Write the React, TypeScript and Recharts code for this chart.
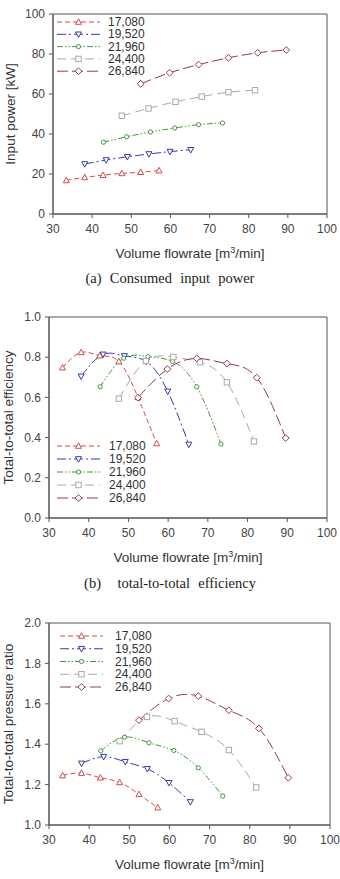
import React from "react";
import { LineChart, Line, XAxis, YAxis, Legend, ReferenceArea } from "recharts";

// rotational speeds [rpm]
const speeds = ["17,080", "19,520", "21,960", "24,400", "26,840"];

// volume flowrate [m3/min] at each operating point
const flow17080 = [33.4, 38.1, 42.8, 47.6, 52.4, 57.1];
const flow19520 = [38.1, 43.6, 49.0, 54.5, 59.9, 65.2];
const flow21960 = [42.9, 48.8, 54.9, 61.1, 67.2, 73.3];
const flow24400 = [47.6, 54.4, 61.3, 68.0, 74.8, 81.6];
const flow26840 = [52.4, 59.8, 67.2, 74.8, 82.3, 89.6];

// input power [kW]
const power17080 = [16.8, 18.3, 19.4, 20.3, 20.9, 21.7];
const power19520 = [25.0, 27.0, 28.6, 30.0, 31.2, 32.1];
const power21960 = [35.9, 38.6, 41.0, 43.0, 44.7, 45.5];
const power24400 = [49.1, 52.8, 56.1, 58.7, 60.9, 61.9];
const power26840 = [65.1, 70.6, 74.7, 78.1, 80.6, 82.0];

// total-to-total efficiency
const eff17080 = [0.748, 0.824, 0.808, 0.779, 0.6, 0.371];
const eff19520 = [0.705, 0.814, 0.806, 0.779, 0.63, 0.366];
const eff21960 = [0.653, 0.795, 0.803, 0.779, 0.653, 0.368];
const eff24400 = [0.594, 0.781, 0.801, 0.775, 0.675, 0.381];
const eff26840 = [0.599, 0.741, 0.794, 0.768, 0.698, 0.398];

// total-to-total pressure ratio
const ratio17080 = [1.245, 1.257, 1.234, 1.211, 1.152, 1.086];
const ratio19520 = [1.305, 1.338, 1.313, 1.278, 1.209, 1.114];
const ratio21960 = [1.367, 1.435, 1.407, 1.369, 1.283, 1.143];
const ratio24400 = [1.415, 1.535, 1.514, 1.461, 1.371, 1.186];
const ratio26840 = [1.519, 1.626, 1.638, 1.568, 1.478, 1.234];

const flowTicks = [30, 40, 50, 60, 70, 80, 90, 100];
const powerTicks = [0, 20, 40, 60, 80, 100];
const effTicks = [0, 0.2, 0.4, 0.6, 0.8, 1.0];
const ratioTicks = [1.0, 1.2, 1.4, 1.6, 1.8, 2.0];

const flows = [flow17080, flow19520, flow21960, flow24400, flow26840];
const powerSets = [power17080, power19520, power21960, power24400, power26840];
const effSets = [eff17080, eff19520, eff21960, eff24400, eff26840];
const ratioSets = [ratio17080, ratio19520, ratio21960, ratio24400, ratio26840];

type Shape = "triUp" | "triDown" | "circle" | "square" | "diamond";

const styles: { color: string; dash: string; shape: Shape }[] = [
  { color: "#d44c4c", dash: "5 3", shape: "triUp" },
  { color: "#3a3aa6", dash: "9 3 2 3", shape: "triDown" },
  { color: "#3d9a3d", dash: "6 2 1.5 2 1.5 2", shape: "circle" },
  { color: "#a9a9a9", dash: "9 5", shape: "square" },
  { color: "#9a3850", dash: "11 4", shape: "diamond" },
];

const SANS = "'Liberation Sans', Arial, sans-serif";
const AXIS = "#555";

function Marker({ cx, cy, shape, color }: { cx: number; cy: number; shape: Shape; color: string }) {
  const common = { fill: "#fff", stroke: color, strokeWidth: 1 };
  switch (shape) {
    case "triUp":
      return <polygon points={`${cx},${cy - 3.2} ${cx + 3},${cy + 2.3} ${cx - 3},${cy + 2.3}`} {...common} />;
    case "triDown":
      return <polygon points={`${cx},${cy + 3.2} ${cx + 3},${cy - 2.3} ${cx - 3},${cy - 2.3}`} {...common} />;
    case "circle":
      return <circle cx={cx} cy={cy} r={2.1} {...common} />;
    case "square":
      return <rect x={cx - 2.7} y={cy - 2.7} width={5.4} height={5.4} {...common} />;
    default:
      return <polygon points={`${cx},${cy - 3.4} ${cx + 3.4},${cy} ${cx},${cy + 3.4} ${cx - 3.4},${cy}`} {...common} />;
  }
}

interface LegendPos {
  left: number;
  top: number;
  lineEnd: number;
  textX: number;
  gap: number;
}

function SpeedLegend({ pos }: { pos: LegendPos }) {
  const mid = pos.lineEnd / 2 + 1;
  return (
    <svg width={130} height={5 * pos.gap + 6} style={{ display: "block" }}>
      {styles.map((s, i) => {
        const y = 8 + i * pos.gap;
        return (
          <g key={i}>
            <line x1={2} x2={pos.lineEnd} y1={y} y2={y} stroke={s.color} strokeDasharray={s.dash} />
            <Marker cx={mid} cy={y} shape={s.shape} color={s.color} />
            <text x={pos.textX} y={y} dominantBaseline="central" fontSize={12} fontFamily={SANS} fill="#333">
              {speeds[i]}
            </text>
          </g>
        );
      })}
    </svg>
  );
}

interface ChartProps {
  top: number;
  height: number;
  margin: { top: number; right: number; bottom: number; left: number };
  yWidth: number;
  yDomain: [number, number];
  yTicks: number[];
  digits: number;
  yTitle: string;
  yTitleX: number;
  sets: number[][];
  legend: LegendPos;
}

function PerfChart(props: ChartProps) {
  const { top, height, margin, yWidth, yDomain, yTicks, digits, yTitle, yTitleX, sets, legend } = props;

  const yLabel = (p: any) => {
    const vb = p.viewBox;
    const cy = vb.y + vb.height / 2;
    return (
      <text x={yTitleX} y={cy} transform={`rotate(-90, ${yTitleX}, ${cy})`} textAnchor="middle" fontSize={13.5} fontFamily={SANS} fill="#333">
        {yTitle}
      </text>
    );
  };

  const xLabel = (p: any) => {
    const vb = p.viewBox;
    return (
      <text x={vb.x + vb.width / 2} y={vb.y + 44} textAnchor="middle" fontSize={13.5} fontFamily={SANS} fill="#333">
        Volume flowrate [m<tspan dy={-5} fontSize={9}>3</tspan>
        <tspan dy={5}>/min]</tspan>
      </text>
    );
  };

  return (
    <div style={{ position: "absolute", left: 0, top }}>
      <LineChart width={340} height={height} margin={margin}>
        <ReferenceArea x1={30} x2={100} y1={yDomain[0]} y2={yDomain[1]} fill="none" stroke={AXIS} strokeWidth={1} />
        <XAxis
          type="number"
          dataKey="x"
          domain={[30, 100]}
          ticks={flowTicks}
          height={40}
          stroke={AXIS}
          tickSize={4}
          tickMargin={6}
          tick={{ fill: "#444", fontSize: 12, fontFamily: SANS }}
          label={xLabel}
        />
        <YAxis
          type="number"
          domain={yDomain}
          ticks={yTicks}
          width={yWidth}
          stroke={AXIS}
          tickSize={4}
          tickMargin={4}
          tickFormatter={(v: number) => v.toFixed(digits)}
          tick={{ fill: "#444", fontSize: 12, fontFamily: SANS }}
          label={yLabel}
        />
        <Legend
          layout="vertical"
          align="center"
          verticalAlign="middle"
          wrapperStyle={{ left: legend.left, top: legend.top, width: 130 }}
          content={() => <SpeedLegend pos={legend} />}
        />
        {sets.map((vals, i) => (
          <Line
            key={speeds[i]}
            name={speeds[i]}
            data={flows[i].map((x, j) => ({ x, y: vals[j] }))}
            dataKey="y"
            type="natural"
            stroke={styles[i].color}
            strokeWidth={1}
            strokeDasharray={styles[i].dash}
            dot={(d: any) => <Marker key={`${i}-${d.index}`} cx={d.cx} cy={d.cy} shape={styles[i].shape} color={styles[i].color} />}
            activeDot={false}
            isAnimationActive={false}
          />
        ))}
      </LineChart>
    </div>
  );
}

const captionStyle: React.CSSProperties = {
  position: "absolute",
  left: 0,
  width: 340,
  textAlign: "center",
  fontFamily: "'Liberation Serif', 'Times New Roman', serif",
  fontSize: 14.5,
  lineHeight: "13px",
  whiteSpace: "pre",
  wordSpacing: 0.5,
  color: "#222",
};

export default function App() {
  return (
    <div style={{ position: "absolute", left: 0, top: 0, width: 340, height: 879, background: "#fff", overflow: "hidden" }}>
      <PerfChart
        top={0}
        height={300}
        margin={{ top: 14, right: 13, bottom: 46, left: 0 }}
        yWidth={53}
        yDomain={[0, 100]}
        yTicks={powerTicks}
        digits={0}
        yTitle="Input power [kW]"
        yTitleX={15}
        sets={powerSets}
        legend={{ left: 55, top: 14, lineEnd: 45, textX: 53, gap: 12.3 }}
      />
      <div style={{ ...captionStyle, top: 272 }}>{"(a)  Consumed  input  power"}</div>
      <PerfChart
        top={300}
        height={290}
        margin={{ top: 17, right: 13, bottom: 32, left: 0 }}
        yWidth={49}
        yDomain={[0, 1]}
        yTicks={effTicks}
        digits={1}
        yTitle="Total-to-total efficiency"
        yTitleX={13}
        sets={effSets}
        legend={{ left: 55, top: 138, lineEnd: 45, textX: 54, gap: 13 }}
      />
      <div style={{ ...captionStyle, top: 577 }}>{"(b)    total-to-total  efficiency"}</div>
      <PerfChart
        top={600}
        height={279}
        margin={{ top: 23, right: 10, bottom: 14, left: 0 }}
        yWidth={49}
        yDomain={[1, 2]}
        yTicks={ratioTicks}
        digits={1}
        yTitle="Total-to-total pressure ratio"
        yTitleX={13}
        sets={ratioSets}
        legend={{ left: 58, top: 28, lineEnd: 45, textX: 57, gap: 12.75 }}
      />
    </div>
  );
}
